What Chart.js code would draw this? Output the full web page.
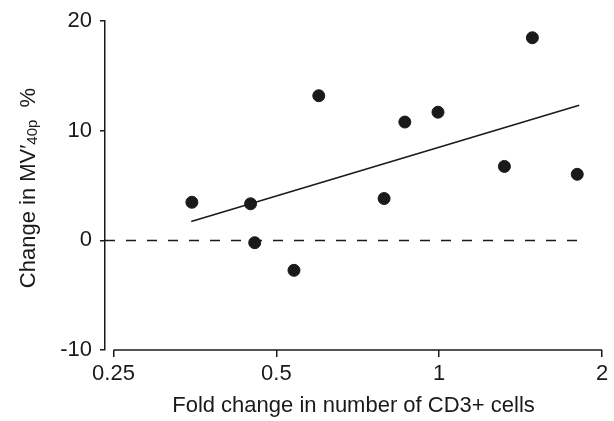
<!DOCTYPE html>
<html>
<head>
<meta charset="utf-8">
<script src="https://cdn.jsdelivr.net/npm/chart.js@4/dist/chart.umd.min.js"></script>
<style>
  body { margin: 0; background: #fff; }
  #wrap { width: 614px; height: 421px; position: relative; }
</style>
</head>
<body>
<div id="wrap"><canvas id="cd3Chart"></canvas></div>
<script>
const foldChange = [0.349, 0.448, 0.456, 0.539, 0.599, 0.791, 0.864, 0.995, 1.32, 1.487, 1.80];
const mvChange = [3.48, 3.34, -0.21, -2.73, 13.2, 3.82, 10.8, 11.7, 6.75, 18.49, 6.03];

// regression line end points
const fitX = [0.348, 1.815];
const fitY = [1.73, 12.34];

// dashed zero reference
const zeroX = [0.2411, 1.86];
const zeroY = [0, 0];

const xTicks = [0.25, 0.5, 1, 2];
const yTicks = [-10, 0, 10, 20];

const FONT = '"Liberation Sans", Arial, sans-serif';
const INK = "#1a1a1a";

const toPoints = (xs, ys) => xs.map((v, i) => ({ x: v, y: ys[i] }));

// x axis line only spans the first to last tick (detached axis)
const xAxisLine = {
  id: "xAxisLine",
  afterDraw(chart) {
    const { ctx, chartArea } = chart;
    const x = chart.scales.x;
    const x0 = x.getPixelForValue(xTicks[0]);
    const x1 = x.getPixelForValue(xTicks[xTicks.length - 1]);
    const y = Math.round(chartArea.bottom);
    ctx.save();
    ctx.strokeStyle = INK;
    ctx.lineWidth = 1.5;
    ctx.beginPath();
    ctx.moveTo(x0, y);
    ctx.lineTo(x1, y);
    ctx.stroke();
    ctx.restore();
  }
};

// y title with a subscript, drawn rotated
const yTitle = {
  id: "yTitle",
  afterDraw(chart) {
    const { ctx } = chart;
    const parts = [
      { text: "Change in MV\u2032", size: 22, dy: 0 },
      { text: "40p", size: 15, dy: 4 },
      { text: "  %", size: 22, dy: 0 }
    ];
    ctx.save();
    let total = 0;
    parts.forEach(p => {
      ctx.font = p.size + "px " + FONT;
      p.w = ctx.measureText(p.text).width;
      total += p.w;
    });
    ctx.translate(29, 188);
    ctx.rotate(-Math.PI / 2);
    ctx.fillStyle = INK;
    ctx.textBaseline = "middle";
    ctx.textAlign = "left";
    let pos = -total / 2;
    parts.forEach(p => {
      ctx.font = p.size + "px " + FONT;
      ctx.fillText(p.text, pos, p.dy);
      pos += p.w;
    });
    ctx.restore();
  }
};

const ctx = document.getElementById("cd3Chart").getContext("2d");

new Chart(ctx, {
  type: "scatter",
  data: {
    datasets: [
      {
        label: "Patients",
        data: toPoints(foldChange, mvChange),
        backgroundColor: "#1a1a1a",
        borderColor: "#1a1a1a",
        pointRadius: 6,
        pointHoverRadius: 6,
        order: 0
      },
      {
        label: "Fit",
        data: toPoints(fitX, fitY),
        showLine: true,
        borderColor: "#1a1a1a",
        borderWidth: 1.6,
        pointRadius: 0,
        order: 1
      },
      {
        label: "Zero",
        data: toPoints(zeroX, zeroY),
        showLine: true,
        borderColor: "#1a1a1a",
        borderWidth: 1.5,
        borderDash: [10, 11],
        pointRadius: 0,
        order: 2
      }
    ]
  },
  options: {
    responsive: true,
    maintainAspectRatio: false,
    animation: false,
    layout: {
      padding: { top: 21, right: 12, bottom: 0, left: 0 }
    },
    plugins: {
      legend: { display: false },
      tooltip: { enabled: false }
    },
    scales: {
      x: {
        type: "logarithmic",
        min: 0.2411,
        max: 2,
        afterBuildTicks: scale => {
          scale.ticks = xTicks.map(v => ({ value: v }));
        },
        afterFit: scale => { scale.height = 71; },
        ticks: {
          color: INK,
          padding: 4,
          autoSkip: false,
          maxRotation: 0,
          font: { family: FONT, size: 22 },
          callback: v => String(v)
        },
        grid: {
          display: true,
          drawOnChartArea: false,
          drawTicks: true,
          tickLength: 7,
          color: INK,
          lineWidth: 1.5
        },
        border: { display: false },
        title: {
          display: true,
          text: "Fold change in number of CD3+ cells",
          color: INK,
          padding: { top: 0, bottom: 2 },
          font: { family: FONT, size: 22 }
        }
      },
      y: {
        min: -10,
        max: 20,
        afterBuildTicks: scale => {
          scale.ticks = yTicks.map(v => ({ value: v }));
        },
        afterFit: scale => { scale.width = 105; },
        ticks: {
          color: INK,
          padding: 8,
          font: { family: FONT, size: 22 }
        },
        grid: {
          display: true,
          drawOnChartArea: false,
          drawTicks: true,
          tickLength: 5,
          color: INK,
          lineWidth: 1.5
        },
        border: { display: true, color: INK, width: 1.5 }
      }
    }
  },
  plugins: [xAxisLine, yTitle]
});
</script>
</body>
</html>
